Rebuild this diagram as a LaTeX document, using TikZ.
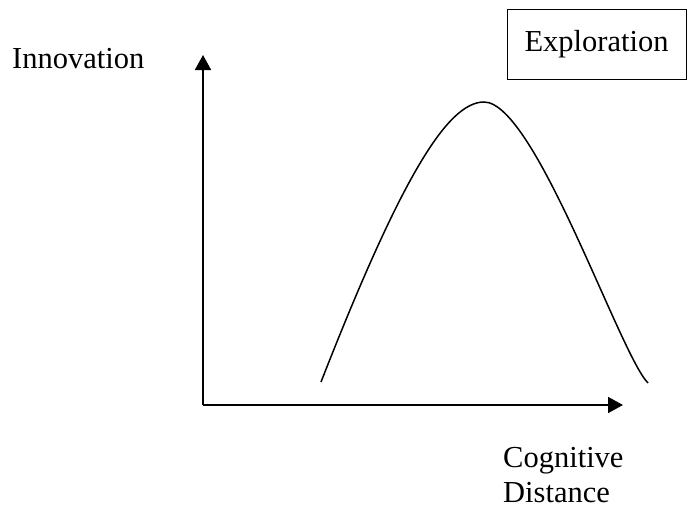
\documentclass[tikz,border=0pt]{standalone}
\usepackage{fontspec}
\setmainfont{Liberation Serif}
\usetikzlibrary{arrows.meta}
\begin{document}
\begin{tikzpicture}[x=1pt,y=-1pt,
  lbl/.style={inner sep=0pt,anchor=base west,font=\fontsize{30.5}{35}\selectfont},
  axis/.style={line width=1.8pt,-{Triangle[length=15pt,width=16pt]}},
  curve/.style={line width=1.5pt}]
\useasboundingbox (0,0) rectangle (688,514);
\coordinate (origin) at (203,405);
\coordinate (ytip) at (203,55);
\coordinate (xtip) at (623,405);
\coordinate (cstart) at (321,382);
\coordinate (cpeak) at (484,102);
\coordinate (cend) at (648,383);
\draw[axis] (origin) -- (ytip);
\draw[axis] (origin) -- (xtip);
\node[lbl] (innov) at (12,68) {Innovation};
\node[lbl] (cog) at (503,467) {Cognitive};
\node[lbl] (dist) at (503,502) {Distance};
\node[draw,line width=1pt,inner sep=0pt,minimum width=179pt,minimum height=70pt,
  font=\fontsize{30.5}{35}\selectfont] (expl) at (596.5,44) {Exploration};
\draw[curve] (cstart) .. controls (400,180) and (447,102) .. (cpeak)
  .. controls (535,102) and (620,355) .. (cend);
\end{tikzpicture}
\end{document}
